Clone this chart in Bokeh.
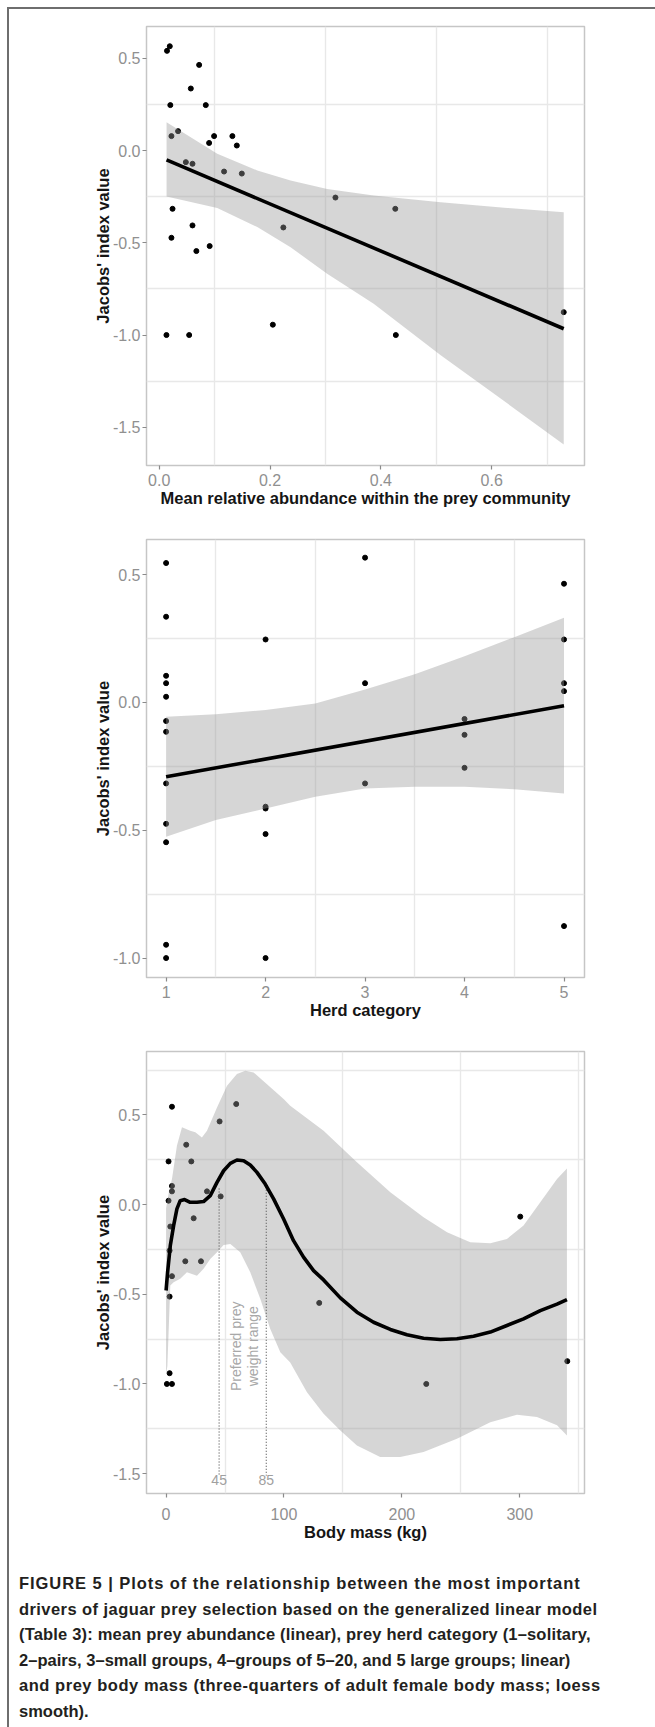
import math
from bokeh.plotting import figure
from bokeh.models import Range1d, FixedTicker, Div, Spacer
from bokeh.layouts import column, row
from bokeh.core.properties import value
from bokeh.embed import file_html
from bokeh.resources import INLINE

FONT = "Liberation Sans"
TICK_TEXT = "#909090"
TICK_LINE = "#8a8a8a"
GRID = "#e8e8e8"
TITLE = "#151515"

# ---------------- Panel 1: mean relative abundance ----------------
abundance = [0.014, 0.019, 0.072, 0.057, 0.020, 0.084, 0.022, 0.034, 0.090, 0.099,
             0.132, 0.140, 0.048, 0.060, 0.117, 0.149, 0.318, 0.426, 0.024, 0.224,
             0.060, 0.022, 0.091, 0.067, 0.730, 0.205, 0.013, 0.054, 0.427]
jacobs_abund = [0.540, 0.565, 0.464, 0.336, 0.246, 0.246, 0.078, 0.105, 0.041, 0.078,
                0.078, 0.027, -0.063, -0.072, -0.114, -0.125, -0.255, -0.316, -0.316, -0.417,
                -0.406, -0.473, -0.518, -0.545, -0.876, -0.944, -1.0, -1.0, -1.0]
abund_band_x = [0.0132, 0.1047, 0.177, 0.237, 0.303, 0.387, 0.508, 0.628, 0.730]
abund_band_hi = [0.153, -0.018, -0.108, -0.163, -0.208, -0.244, -0.280, -0.311, -0.334]
abund_band_lo = [-0.249, -0.311, -0.415, -0.524, -0.668, -0.830, -1.110, -1.370, -1.593]
abund_fit_x = [0.0132, 0.730]
abund_fit_y = [-0.051, -0.966]
p1_xticks = [0.0, 0.2, 0.4, 0.6]
p1_xlabels = ["0.0", "0.2", "0.4", "0.6"]
p1_yticks = [-1.5, -1.0, -0.5, 0.0, 0.5]
p1_ylabels = ["-1.5", "-1.0", "-0.5", "0.0", "0.5"]
p1_xgrid = [0.1, 0.3, 0.5, 0.7]
p1_ygrid = [-1.25, -0.75, -0.25, 0.25]

# ---------------- Panel 2: herd category ----------------
herd = [1, 1, 1, 1, 1, 1, 1, 1, 1, 1, 1, 1,
        2, 2, 2, 2, 2,
        3, 3, 3,
        4, 4, 4,
        5, 5, 5, 5, 5]
jacobs_herd = [0.545, 0.335, 0.104, 0.075, 0.022, -0.073, -0.115, -0.317, -0.475, -0.547, -0.948, -1.0,
               0.246, -0.408, -0.415, -0.515, -1.0,
               0.566, 0.075, -0.317,
               -0.065, -0.127, -0.256,
               0.464, 0.246, 0.075, 0.044, -0.875]
herd_band_x = [1.0, 1.5, 2.0, 2.5, 3.0, 3.5, 4.0, 4.5, 5.0]
herd_band_hi = [-0.056, -0.046, -0.030, -0.004, 0.050, 0.110, 0.180, 0.255, 0.331]
herd_band_lo = [-0.526, -0.460, -0.415, -0.369, -0.337, -0.330, -0.330, -0.340, -0.356]
herd_fit_x = [1.0, 5.0]
herd_fit_y = [-0.291, -0.013]
p2_xticks = [1, 2, 3, 4, 5]
p2_xlabels = ["1", "2", "3", "4", "5"]
p2_yticks = [-1.0, -0.5, 0.0, 0.5]
p2_ylabels = ["-1.0", "-0.5", "0.0", "0.5"]
p2_xgrid = [1.5, 2.5, 3.5, 4.5]
p2_ygrid = [-0.75, -0.25, 0.25]

# ---------------- Panel 3: body mass (loess) ----------------
mass = [5.0, 59.5, 45.4, 17.1, 2.1, 21.4, 5.0, 5.0, 34.7, 46.3,
        2.1, 23.4, 3.6, 3.0, 16.3, 29.6, 5.0, 3.0, 129.9, 3.0,
        0.7, 5.0, 300.4, 220.7, 340.3]
jacobs_mass = [0.546, 0.561, 0.464, 0.334, 0.241, 0.241, 0.104, 0.074, 0.074, 0.046,
               0.022, -0.076, -0.122, -0.256, -0.316, -0.316, -0.399, -0.513, -0.548, -0.940,
               -1.0, -1.0, -0.067, -1.0, -0.873]
loess_x = [0, 1.3, 3.6, 6.4, 9.2, 12, 15.7, 20.5, 26.2, 31.8, 37.5, 43.2, 48.8, 54.5,
           60.1, 65.8, 71.4, 77.1, 84.1, 91.2, 99.7, 108.1, 116.6, 125.1, 133.6, 147.8,
           161.9, 176, 190.2, 204.3, 218.4, 232.6, 246.7, 260.8, 275, 289.1, 303.2,
           317.4, 331.6, 340]
loess_y = [-0.479, -0.377, -0.228, -0.117, -0.024, 0.022, 0.028, 0.013, 0.013, 0.017,
           0.050, 0.124, 0.189, 0.230, 0.249, 0.245, 0.221, 0.180, 0.115, 0.032, -0.080,
           -0.201, -0.293, -0.368, -0.420, -0.520, -0.600, -0.656, -0.696, -0.726, -0.745,
           -0.752, -0.748, -0.734, -0.711, -0.674, -0.637, -0.591, -0.555, -0.530]
loess_hi_x = [0, 2.1, 5.0, 9.2, 13.5, 20.5, 24.8, 30.4, 34.7, 43.2, 51.7, 60.1, 67.2,
              74.2, 85.6, 99.7, 105.3, 113.8, 133.6, 161.9, 190.2, 218.4, 238.3, 258,
              275, 289.1, 303.2, 317.4, 331.6, 340]
loess_hi_y = [-0.020, 0.060, 0.143, 0.329, 0.431, 0.412, 0.403, 0.375, 0.412, 0.542,
              0.663, 0.728, 0.747, 0.737, 0.672, 0.589, 0.552, 0.510, 0.412, 0.236,
              0.069, -0.071, -0.154, -0.210, -0.215, -0.191, -0.117, 0.013, 0.143, 0.202]
loess_lo_x = [0, 1.1, 3.6, 6.4, 12, 17.7, 26.2, 31.8, 37.5, 43.2, 48.8, 54.5, 62.9,
              71.4, 79.9, 88.4, 96.9, 105.3, 119.5, 133.6, 147.8, 161.9, 181.6, 198.6,
              218.4, 246.7, 275, 297.6, 314.6, 331.6, 340]
loess_lo_y = [-0.950, -0.900, -0.451, -0.433, -0.414, -0.377, -0.396, -0.358, -0.303,
              -0.266, -0.225, -0.219, -0.266, -0.377, -0.525, -0.693, -0.823, -0.880,
              -1.046, -1.166, -1.260, -1.343, -1.408, -1.408, -1.380, -1.305, -1.213,
              -1.172, -1.185, -1.231, -1.287]
pref_x = [45, 85]
pref_top = [0.09, 0.10]
pref_bottom = [-1.51, -1.51]
pref_labels = ["45", "85"]
pref_label_y = [-1.538, -1.538]
pref_note = ["Preferred prey\nweight range"]
pref_note_x = [66.5]
pref_note_y = [-0.79]
p3_xticks = [0, 100, 200, 300]
p3_xlabels = ["0", "100", "200", "300"]
p3_yticks = [-1.5, -1.0, -0.5, 0.0, 0.5]
p3_ylabels = ["-1.5", "-1.0", "-0.5", "0.0", "0.5"]
p3_xgrid = [50, 150, 250, 350]
p3_ygrid = [-1.25, -0.75, -0.25, 0.25, 0.75]

caption_lines = [
    "FIGURE 5 | Plots of the relationship between the most important",
    "drivers of jaguar prey selection based on the generalized linear model",
    "(Table 3): mean prey abundance (linear), prey herd category (1\u2013solitary,",
    "2\u2013pairs, 3\u2013small groups, 4\u2013groups of 5\u201320, and 5 large groups; linear)",
    "and prey body mass (three-quarters of adult female body mass; loess",
    "smooth).",
]
caption_spacing = ["0.94px", "0.43px", "0.18px", "0.03px", "0.54px", "0px"]


def make_panel(height, xr, yr, top, bottom, xticks, xlabels, yticks, ylabels,
               xgrid, ygrid, xtitle, xstandoff):
    p = figure(width=646, height=height, x_range=Range1d(*xr), y_range=Range1d(*yr),
               toolbar_location=None, output_backend="svg",
               min_border_left=137, min_border_right=71,
               min_border_top=top, min_border_bottom=bottom,
               background_fill_color="white", border_fill_color="white")
    p.outline_line_color = "#c6c6c6"
    p.outline_line_width = 1.5
    p.xaxis.ticker = FixedTicker(ticks=xticks)
    p.yaxis.ticker = FixedTicker(ticks=yticks)
    p.xaxis.major_label_overrides = dict(zip(xticks, xlabels))
    p.yaxis.major_label_overrides = dict(zip(yticks, ylabels))
    for ax in (p.xaxis[0], p.yaxis[0]):
        ax.axis_line_color = None
        ax.major_tick_line_color = TICK_LINE
        ax.major_tick_line_width = 1.2
        ax.major_tick_out = 4
        ax.major_tick_in = 0
        ax.minor_tick_line_color = None
        ax.major_label_text_font = FONT
        ax.major_label_text_font_size = "16px"
        ax.major_label_text_color = TICK_TEXT
        ax.axis_label_text_font = FONT
        ax.axis_label_text_font_style = "bold"
        ax.axis_label_text_color = TITLE
        ax.axis_label_text_font_size = "16.5px"
    p.xaxis.major_label_standoff = xstandoff
    p.xaxis.axis_label_standoff = 0
    p.yaxis.major_label_standoff = 2
    p.yaxis.axis_label_standoff = -2
    p.xaxis.axis_label = xtitle
    p.yaxis.axis_label = "Jacobs' index value"
    p.xgrid.ticker = FixedTicker(ticks=xgrid)
    p.ygrid.ticker = FixedTicker(ticks=ygrid)
    for g in (p.xgrid[0], p.ygrid[0]):
        g.grid_line_color = GRID
        g.grid_line_width = 1.4
    return p


def add_points(p, x, y):
    p.scatter(x, y, size=5, color="black", line_color="black")


# Panel 1
p1 = make_panel(511, (-0.023, 0.7675), (-1.707, 0.672), 17, 55,
                p1_xticks, p1_xlabels, p1_yticks, p1_ylabels, p1_xgrid, p1_ygrid,
                "Mean relative abundance within the prey community", 4)
add_points(p1, abundance, jacobs_abund)
p1.varea(x=abund_band_x, y1=abund_band_lo, y2=abund_band_hi, fill_color="#999999", fill_alpha=0.4)
p1.line(abund_fit_x, abund_fit_y, line_color="black", line_width=3.6)

# Panel 2
p2 = make_panel(510, (0.803, 5.206), (-1.076, 0.637), 19, 53,
                p2_xticks, p2_xlabels, p2_yticks, p2_ylabels, p2_xgrid, p2_ygrid,
                "Herd category", 4)
add_points(p2, herd, jacobs_herd)
p2.varea(x=herd_band_x, y1=herd_band_lo, y2=herd_band_hi, fill_color="#999999", fill_alpha=0.4)
p2.line(herd_fit_x, herd_fit_y, line_color="black", line_width=3.6)

# Panel 3
p3 = make_panel(530, (-16.6, 354.9), (-1.611, 0.854), 21, 67,
                p3_xticks, p3_xlabels, p3_yticks, p3_ylabels, p3_xgrid, p3_ygrid,
                "Body mass (kg)", 10)
add_points(p3, mass, jacobs_mass)
p3.patch(x=loess_hi_x + loess_lo_x[::-1], y=loess_hi_y + loess_lo_y[::-1],
         fill_color="#999999", fill_alpha=0.4, line_color=None)
p3.segment(x0=pref_x, y0=pref_top, x1=pref_x, y1=pref_bottom,
           line_color="#5a5a5a", line_width=1.2, line_dash="1 2")
p3.line(loess_x, loess_y, line_color="black", line_width=3.6, line_join="round")
p3.text(x=pref_x, y=pref_label_y, text=pref_labels, text_font=value(FONT),
        text_font_size="14px", text_color="#a0a0a0", text_align="center",
        text_baseline="middle")
p3.text(x=pref_note_x, y=pref_note_y, text=pref_note, angle=math.pi / 2,
        text_font=value(FONT), text_font_size="14px", text_color="#a8a8a8",
        text_align="center", text_baseline="middle", text_line_height=1.1)

# Caption
caption_html = "<br>".join(
    '<span style="letter-spacing:%s">%s</span>' % (sp, ln)
    for ln, sp in zip(caption_lines, caption_spacing))
caption = Div(text=caption_html, width=646, height=167, margin=0,
              styles={"font-family": "'Liberation Sans', Arial, sans-serif",
                      "font-weight": "bold", "font-size": "16.5px",
                      "line-height": "25.5px", "color": "#231f20",
                      "padding-left": "10px", "padding-top": "11px",
                      "box-sizing": "border-box", "white-space": "nowrap",
                      "background-color": "white"})

frame_color = "#6e6e6e"
top_line = Div(text="", width=646, height=2, margin=0,
               styles={"background-color": frame_color})
left_line = Div(text="", width=2, height=1720, margin=0,
                styles={"background-color": frame_color})
inner = column(top_line, p1, p2, p3, caption, spacing=0)
root = column(Spacer(width=655, height=7),
              row(Spacer(width=7, height=1720), left_line, inner, spacing=0),
              spacing=0)

open("out.html", "w").write(file_html(root, INLINE))
